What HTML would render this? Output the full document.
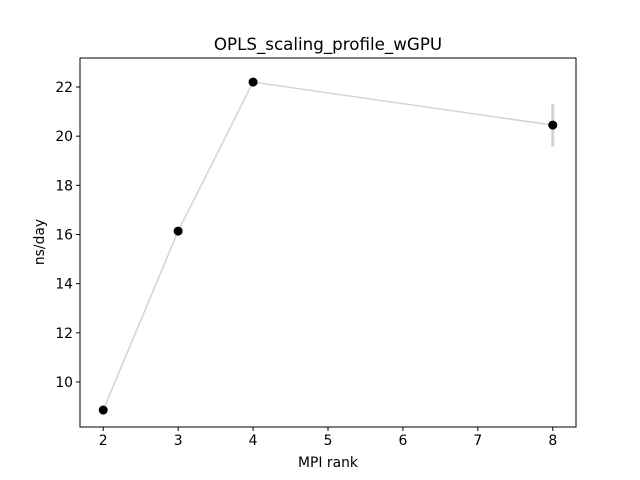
<!DOCTYPE html>
<html><head><meta charset="utf-8"><style>
body{margin:0;background:#fff}
svg{display:block;font-family:"DejaVu Sans","Liberation Sans",sans-serif}
</style></head><body>
<svg id="chart" width="640" height="480">
<rect x="0" y="0" width="640" height="480" fill="#fff"/>
<text x="328" y="50" text-anchor="middle" font-size="16.7">OPLS_scaling_profile_wGPU</text>
<text x="328" y="467" text-anchor="middle" font-size="13.9">MPI rank</text>
<text transform="translate(44,242) rotate(-90)" text-anchor="middle" font-size="13.9">ns/day</text>
<g id="ticks"></g>
<g id="marks"></g>
<rect x="80" y="58" width="496" height="369" fill="none" stroke="#000" stroke-width="1"/>
</svg>
<script>
const ranks = [2, 3, 4, 8];
const nsPerDay = [8.86, 16.14, 22.2, 20.45];
const errors = [0.05, 0.05, 0.12, 0.87];
const xTicks = [2, 3, 4, 5, 6, 7, 8];
const yTicks = [10, 12, 14, 16, 18, 20, 22];

const L=80,R=576,T=58,B=427;
const xMin=1.69,xMax=8.31,yMin=8.17,yMax=23.18;
const sx=v=>L+(v-xMin)/(xMax-xMin)*(R-L);
const sy=v=>B-(v-yMin)/(yMax-yMin)*(B-T);
const NS="http://www.w3.org/2000/svg";
function mk(tag,attrs,parent){const e=document.createElementNS(NS,tag);for(const k in attrs)e.setAttribute(k,attrs[k]);parent.appendChild(e);return e;}
const tg=document.getElementById('ticks'), mg=document.getElementById('marks');
xTicks.forEach(t=>{
  const l=mk('line',{x1:sx(t),x2:sx(t),y1:B,y2:B+4,stroke:'#000'},tg);
  
  
  const tx=mk('text',{x:sx(t),y:B+18,'text-anchor':'middle','font-size':'13.9'},tg);
  tx.textContent=t;
  
  
});
yTicks.forEach(t=>{
  const l=mk('line',{x1:L-4,x2:L,y1:sy(t),y2:sy(t),stroke:'#000'},tg);
  
  
  const tx=mk('text',{x:L-7,y:sy(t)+5,'text-anchor':'end','font-size':'13.9'},tg);
  tx.textContent=t;
  
  
});
const pts=ranks.map((r,i)=>sx(r)+','+sy(nsPerDay[i])).join(' ');
const line=mk('polyline',{points:pts,fill:'none',stroke:'#d3d3d3','stroke-width':'1.5'},mg);


ranks.forEach((r,i)=>{
  const eb=mk('line',{x1:sx(r),x2:sx(r),y1:sy(nsPerDay[i]-errors[i]),y2:sy(nsPerDay[i]+errors[i]),stroke:'#d3d3d3','stroke-width':'3'},mg);
  
  
});
ranks.forEach((r,i)=>{
  const c=mk('circle',{cx:sx(r),cy:sy(nsPerDay[i]),r:4.5,fill:'#000'},mg);
  
  
});
</script>
</body></html>
